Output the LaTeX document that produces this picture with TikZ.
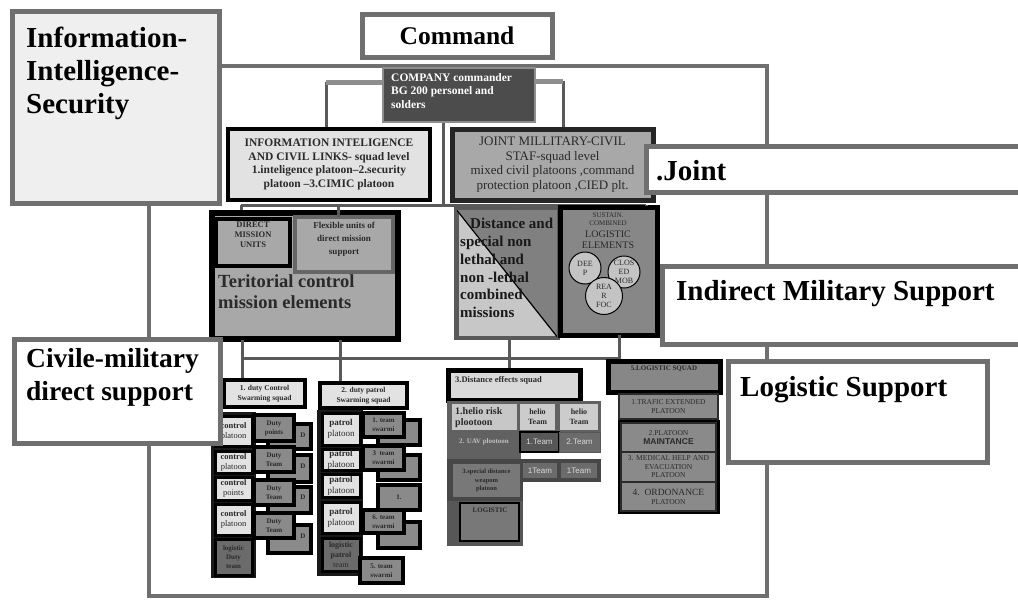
\documentclass[tikz,border=0pt]{standalone}
\usepackage{fontspec}
\setmainfont{Liberation Serif}
\newfontfamily\arialf{Liberation Sans}
\definecolor{fr}{HTML}{6F6F6F}
\definecolor{lt}{HTML}{E2E2E2}
\definecolor{md}{HTML}{A8A8A8}
\definecolor{dk}{HTML}{8A8A8A}
\definecolor{dd}{HTML}{5E5E5E}
\definecolor{tx}{HTML}{2A2A2A}
\definecolor{ln}{HTML}{5A5A5A}
\definecolor{lg}{HTML}{8E8E8E}
\definecolor{cmdc}{HTML}{4C4C4C}
\definecolor{infoc}{HTML}{EFEFEF}
\newcommand\fsz[2]{\fontsize{#1}{#2}\selectfont}
\newcommand\bx[7][]{\node[box,minimum width={(#5-#3)*1pt},minimum height={(#6-#4)*1pt},#1] (#2) at ({(#3+#5)/2},{(#4+#6)/2}) {#7};}
\tikzset{
  box/.style={draw=black, rectangle, inner sep=0.5pt, align=center, text=tx},
  lab/.style={draw=fr, line width=5pt, fill=white, rectangle},
  labtxt/.style={inner sep=0, align=left, font=\bfseries\fsz{29}{33}, text=black},
  conn/.style={draw=ln, line width=3pt},
  lconn/.style={draw=lg, line width=5pt},
  txt/.style={inner sep=0, text=tx},
  colbox/.style={fill=lt, line width=3pt, font=\fsz{8.5}{10}},
  dutybox/.style={fill=dk, line width=3.5pt, font=\bfseries\fsz{7}{9}},
  teambox/.style={fill=dk, line width=3.5pt, font=\bfseries\fsz{7}{9}},
  squadbox/.style={fill=lt, line width=4pt, font=\bfseries\fsz{7.5}{10}},
  logbox/.style={fill=dk, draw=tx, line width=2pt, font=\fsz{7.5}{9}},
}
\begin{document}
\begin{tikzpicture}[x=1pt,y=-1pt]
\useasboundingbox (0,0) rectangle (1018,600);
\fill[white] (0,0) rectangle (1018,600);
% outer frame
\draw[draw=fr, line width=4pt] (149,66) rectangle (767,596);

% ---------- command level
\bx[fill=cmdc, draw=lg, line width=2.5pt]{cmd}{383}{68}{535}{122}{}
\node[anchor=north west, inner sep=0, align=left, text=white, font=\bfseries\fsz{11.5}{13.5}] (cmdt) at (391,73) {COMPANY commander\\BG 200 personel and\\solders};

% ---------- squad level
\bx[fill=lt, line width=4pt, font=\bfseries\fsz{11.5}{13.6}]{info}{228}{129}{430}{200}{INFORMATION INTELIGENCE\\AND CIVIL LINKS- squad level\\1.inteligence platoon–2.security\\platoon –3.CIMIC platoon}
\bx[fill=md, draw=black!85, line width=5pt, font=\fsz{13}{14.8}]{joint}{452}{129}{653}{200}{JOINT MILLITARY-CIVIL\\STAF-squad level\\mixed civil platoons ,command\\protection platoon ,CIED plt.}

% connectors from commander
\coordinate (cl) at (326,82);
\coordinate (cr) at (563,81);
\coordinate (cc) at (443,205);
\draw[conn] (cl) -- (cl |- info.north);
\draw[conn] (cr) -- (cr |- joint.north);
\draw[lconn] (cl) -- (cl -| cmd.west);
\draw[lconn] (cr) -- (cr -| cmd.east);
\draw[conn] (cmd.south -| cc) -- (cc);
\coordinate (b1) at (241,205);
\coordinate (b2) at (646,205);
\draw[conn] (b1) -- (b2);

% ---------- mission elements
\bx[fill=md, line width=6pt]{terr}{212}{213}{398}{339}{}
\bx[fill=md, line width=3.5pt]{direct}{216}{219}{290}{266}{}
\node[txt, font=\bfseries\fsz{8.5}{10}, align=center] (directt) at (253,235) {DIRECT\\MISSION\\UNITS};
\bx[fill=md, draw=black!60, line width=4pt]{flex}{295}{217}{393}{272}{}
\node[txt, anchor=north, font=\bfseries\fsz{9}{13}, align=center] (flext) at (344,222) {Flexible units of\\direct mission\\support};
\node[txt, anchor=north west, align=left, font=\bfseries\fsz{18.5}{21}] (terrt) at (218,274) {Teritorial control\\mission elements};

\bx[fill=black!22, draw=black!65, line width=3pt]{dist}{457}{210}{557}{337}{}
\fill[black!50] (dist.north west) -- (dist.north east) -- (dist.south east) -- cycle;
\draw[black, line width=1.2pt] (dist.north west) -- (dist.south east);
\draw[black!65, line width=3pt] (dist.north west) rectangle (dist.south east);
\node[txt, anchor=north west, align=left, text=black!90, font=\bfseries\fsz{15}{17.8}] (distt) at (460,218) {\hspace{10pt}Distance and\\special non\\lethal and\\non -lethal\\combined\\missions};

\bx[fill=black!47, line width=5pt]{sust}{560}{207}{657}{335}{}
\node[txt, anchor=north, align=center, font=\fsz{7}{8}] (sustt) at (608,213) {SUSTAIN.\\COMBINED};
\node[txt, anchor=north, align=center, font=\fsz{10}{10.5}] (sustt2) at (608,231) {LOGISTIC\\ELEMENTS};
\node[circle, draw=black, line width=1pt, fill=black!23, minimum size=32pt, inner sep=0, align=center, font=\fsz{8}{9}, text=tx] (deep) at (585,268) {DEE\\P};
\node[circle, draw=black, line width=1pt, fill=black!23, minimum size=32pt, inner sep=0, align=center, font=\fsz{8}{9}, text=tx] (closed) at (624,272) {CLOS\\ED\\MOB};
\node[circle, draw=black, line width=1pt, fill=black!23, minimum size=37pt, inner sep=0, align=center, font=\fsz{8}{9}, text=tx] (rear) at (604,296) {REA\\R\\FOC};

\draw[conn] (b1) -- (b1 |- terr.north);
\draw[conn] (338,205) -- (338,217);
\draw[conn] (518,205) -- (518 ,210);
\draw[conn] (b2) -- (b2 |- sust.north);

% ---------- lower bus
\coordinate (u1) at (242,358);
\coordinate (u2) at (619,358);
\draw[conn] (u1) -- (u2);
\draw[conn] (242,340) -- (242,382);
\draw[conn] (340,340) -- (340,384);
\draw[conn] (509,337) -- (509,371);
\draw[conn] (619,335) -- (619,362);

% ---------- column 1
\bx[squadbox]{dutyc}{224}{380}{305}{407}{1. duty Control\\Swarming squad}
\fill[black!90] (211,412) rectangle (256,578);
\bx[dutybox]{d1}{268}{424}{311}{449}{}
\bx[dutybox]{d2}{268}{455}{311}{482}{}
\bx[dutybox]{d3}{268}{487}{311}{513}{}
\bx[dutybox]{d4}{268}{525}{311}{553}{}
\node[txt, font=\bfseries\fsz{7}{9}] (d1t) at (303,435) {D};
\node[txt, font=\bfseries\fsz{7}{9}] (d2t) at (303,466) {D};
\node[txt, font=\bfseries\fsz{7}{9}] (d3t) at (303,497) {D};
\node[txt, font=\bfseries\fsz{7}{9}] (d4t) at (303,536) {D};
\bx[colbox]{c1}{215}{416}{252}{446}{\textbf{control}\\platoon}
\bx[colbox]{c2}{215}{451}{252}{473}{\textbf{control}\\platoon}
\bx[colbox]{c3}{215}{477}{252}{500}{\textbf{control}\\points}
\bx[colbox]{c4}{215}{504}{252}{535}{\textbf{control}\\platoon}
\bx[colbox, fill=black!58, font=\bfseries\fsz{7}{9}]{c5}{215}{539}{252}{575}{logistic\\Duty\\team}
\bx[dutybox]{t1}{254}{415}{294}{441}{Duty\\points}
\bx[dutybox]{t2}{254}{447}{294}{472}{Duty\\Team}
\bx[dutybox]{t3}{254}{480}{294}{505}{Duty\\Team}
\bx[dutybox]{t4}{254}{513}{294}{538}{Duty\\Team}

% ---------- column 2
\bx[squadbox]{dutyp}{320}{383}{407}{408}{2. duty patrol\\Swarming squad}
\fill[black!90] (317,410) rectangle (363,576);
\bx[teambox]{e1}{378}{420}{420}{445}{}
\bx[teambox]{e2}{378}{455}{420}{480}{}
\bx[teambox]{e3}{378}{485}{420}{510}{1.}
\bx[teambox]{e4}{378}{522}{420}{548}{}
\bx[colbox, font=\fsz{9}{11}]{p1}{322}{413}{360}{445}{\textbf{patrol}\\platoon}
\bx[colbox, font=\fsz{9}{11}]{p2}{322}{449}{360}{470}{\textbf{patrol}\\platoon}
\bx[colbox, font=\fsz{9}{11}]{p3}{322}{474}{360}{497}{\textbf{patrol}\\platoon}
\bx[colbox, font=\fsz{9}{11}]{p4}{322}{502}{360}{533}{\textbf{patrol}\\platoon}
\bx[colbox, fill=black!58, font=\fsz{8}{10}]{p5}{322}{538}{360}{571}{\textbf{logistic}\\\textbf{patrol}\\team}
\bx[teambox]{s1}{363}{413}{404}{437}{1. team\\swarmi}
\bx[teambox]{s2}{363}{446}{404}{470}{3\ \ team\\swarmi}
\bx[teambox]{s3}{363}{510}{404}{533}{6. team\\swarmi}
\bx[teambox]{s4}{360}{558}{403}{583}{5. team\\swarmi}

% ---------- column 3
\bx[fill=black!15, line width=5pt]{sq3}{448}{370}{580}{400}{}
\node[txt, anchor=north west, font=\bfseries\fsz{8.5}{10}] (sq3t) at (455,376) {3.Distance effects squad};
\fill[black!62] (447,401) rectangle (601,452);
\fill[black!62] (447,452) rectangle (521,460);
\bx[draw=none, fill=black!22]{hr}{452}{404}{517}{430}{}
\node[txt, anchor=north west, align=left, font=\bfseries\fsz{10}{11.5}] (hrt) at (455,407) {1.helio risk\\plootoon};
\bx[draw=none, fill=black!20, font=\bfseries\fsz{8}{10}]{ht1}{520}{404}{555}{430}{helio\\Team}
\bx[draw=none, fill=black!20, font=\bfseries\fsz{8}{10}]{ht2}{560}{404}{598}{430}{helio\\Team}
\node[txt, font=\bfseries\fsz{7}{9}, text=black!25] (uav) at (484,442) {2. UAV plootoon};
\bx[fill=black!66, line width=1.5pt, text=black!15, font=\arialf\fsz{8}{9}]{tm1}{520}{432}{559}{452}{1.Team}
\bx[fill=black!58, line width=1pt, draw=black!66, text=black!15, font=\arialf\fsz{8}{9}]{tm2}{559}{432}{600}{452}{2.Team}
\fill[black!72] (447,459) rectangle (601,482);
\fill[black!72] (447,459) rectangle (523,501);
\bx[draw=none, fill=black!53, font=\bfseries\fsz{6.5}{8.5}]{wp}{453}{464}{520}{497}{3.special distance\\weapom\\platoon}
\bx[draw=none, fill=black!58, text=black!15, font=\arialf\fsz{8}{9}]{tm3}{523}{463}{557}{478}{1Team}
\bx[draw=none, fill=black!58, text=black!15, font=\arialf\fsz{8}{9}]{tm4}{561}{463}{597}{478}{1Team}
\fill[black!66] (447,501) rectangle (523,546);
\bx[fill=black!53, line width=1.5pt]{lgc}{460}{503}{519}{541}{}
\node[txt, anchor=north, font=\bfseries\fsz{7}{9}] (lgct) at (490,508) {LOGISTIC};

% ---------- column 4
\bx[fill=black!47, line width=5pt]{lsq}{608}{361}{720}{392}{}
\node[txt, anchor=north, font=\bfseries\fsz{7}{9}] (lsqt) at (664,366) {5.LOGISTIC SQUAD};
\bx[logbox]{tr}{619}{394}{718}{419}{1.TRAFIC EXTENDED\\PLATOON}
\draw[black, line width=3pt] (619,421) rectangle (718,512);
\bx[logbox]{mt}{621}{423}{716}{452}{2.PLATOON\\{\arialf\bfseries\fsz{8.5}{9}MAINTANCE}}
\bx[logbox, font=\fsz{7.5}{8.5}]{mh}{621}{452}{716}{482}{3. MEDICAL HELP AND\\EVACUATION\\PLATOON}
\bx[logbox]{od}{621}{482}{716}{511}{{\fsz{9.5}{11}4.\ \ ORDONANCE}\\PLATOON}

% ---------- side labels
\node[lab, fill=infoc, minimum width=207pt, minimum height=192pt] (lis) at (116,107.5) {};
\node[labtxt, anchor=north west] (list) at (26,27) {Information-\\Intelligence-\\Security};
\node[lab, minimum width=190pt, minimum height=43pt] (lcmd) at (457,35.5) {};
\node[txt, font=\bfseries\fsz{25.5}{27}, text=black] (lcmdt) at (457,36) {Command};
\node[lab, minimum width=380pt, minimum height=46pt] (ljoint) at (836,169) {};
\node[labtxt, anchor=west] (ljointt) at (656,171) {.Joint};
\node[lab, minimum width=364pt, minimum height=78pt] (lind) at (844,305) {};
\node[labtxt, anchor=west] (lindt) at (676,294) {Indirect Military Support};
\node[lab, minimum width=259pt, minimum height=101pt] (llog) at (857.5,411.5) {};
\node[labtxt, anchor=west] (llogt) at (740,390) {Logistic Support};
\node[lab, minimum width=206pt, minimum height=104pt] (lciv) at (117,391) {};
\node[labtxt, anchor=north west, font=\bfseries\fsz{27.5}{33}] (lcivt) at (26,348) {Civile-military\\direct support};
\end{tikzpicture}
\end{document}
